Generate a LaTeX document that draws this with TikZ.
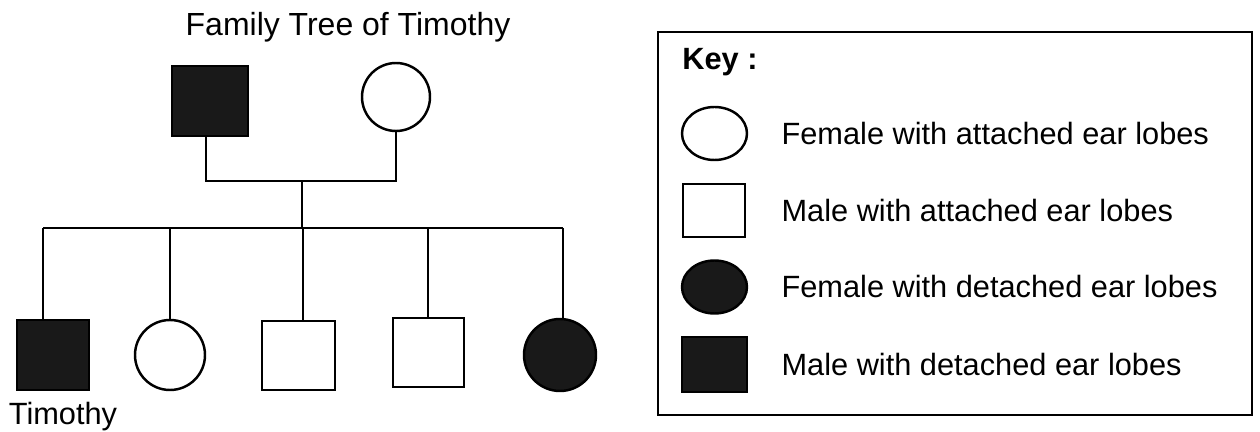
\documentclass[tikz,border=0pt]{standalone}
\usepackage{fontspec}
\setmainfont{Liberation Sans}
\usepackage{tikz}
\usetikzlibrary{positioning}
\usetikzlibrary{shapes.geometric}
\tikzstyle{line} = [line width=1.4pt]
\tikzstyle{label} = [font=\fontsize{17.5}{21}\selectfont, inner sep=0pt]
\tikzstyle{male} = [draw, line width=1.4pt, rectangle, inner sep=0pt]
\tikzstyle{female} = [draw, line width=1.4pt, circle, inner sep=0pt]
\tikzstyle{keyoval} = [draw, line width=1.4pt, ellipse, inner sep=0pt, minimum width=1.3cm, minimum height=1.06cm]
\tikzstyle{affected} = [fill=black!90]

\begin{document}
\begin{tikzpicture}
	\useasboundingbox (0,0) rectangle (25.2,-8.64);
	%Title
	\node[label, font=\fontsize{18.2}{22}\selectfont] (title) at (6.96,-0.54) {Family Tree of Timothy};
	
	%Parents
	\node[male, affected, minimum width=1.52cm, minimum height=1.4cm] (father) at (4.2,-2.02) {};
	\node[female, minimum size=1.36cm] (mother) at (7.92,-1.94) {};
	
	%Children
	\node[male, affected, minimum width=1.44cm, minimum height=1.4cm] (childOne) at (1.06,-7.1) {};
	\node[female, minimum size=1.4cm] (childTwo) at (3.4,-7.1) {};
	\node[male, minimum width=1.46cm, minimum height=1.38cm] (childThree) at (5.97,-7.11) {};
	\node[male, minimum width=1.42cm, minimum height=1.38cm] (childFour) at (8.57,-7.05) {};
	\node[female, affected, minimum size=1.44cm] (childFive) at (11.2,-7.1) {};
	\node[label] (timothy) at (1.26,-8.34) {Timothy};
	
	%Coordinates
	\coordinate (fatherDrop) at (4.12,-3.62);
	\coordinate (motherDrop) at (7.92,-3.62);
	\coordinate (marriage) at (6.04,-3.62);
	\coordinate (sibMid) at (6.04,-4.56);
	\coordinate (sibOne) at (0.86,-4.56);
	\coordinate (sibTwo) at (3.4,-4.56);
	\coordinate (sibThree) at (6.06,-4.56);
	\coordinate (sibFour) at (8.56,-4.56);
	\coordinate (sibFive) at (11.26,-4.56);
	
	%Lines
	\draw[line] (fatherDrop |- father.south) -- (fatherDrop) -- (motherDrop) -- (mother.south);
	\draw[line] (marriage) -- (sibMid);
	\draw[line] (sibOne) -- (sibFive);
	\draw[line] (sibOne) -- (sibOne |- childOne.north);
	\draw[line] (sibTwo) -- (childTwo.north);
	\draw[line] (sibThree) -- (sibThree |- childThree.north);
	\draw[line] (sibFour) -- (sibFour |- childFour.north);
	\draw[line] (sibFive) -- (sibFive |- childFive.north);
	
	%Key
	\draw[line] (13.16,-0.64) rectangle (25.04,-8.3);
	\node[label, anchor=west, font=\fontsize{17.5}{21}\selectfont\bfseries] (key) at (13.64,-1.24) {Key :};
	\node[keyoval] (kFemA) at (14.29,-2.67) {};
	\node[male, minimum width=1.24cm, minimum height=1.06cm] (kMaleA) at (14.28,-4.21) {};
	\node[keyoval, affected] (kFemD) at (14.29,-5.74) {};
	\node[male, affected, minimum width=1.3cm, minimum height=1.1cm] (kMaleD) at (14.29,-7.29) {};
	\node[label, right=0.66cm of kFemA] (tFemA) {Female with attached ear lobes};
	\node[label, right=0.7cm of kMaleA] (tMaleA) {Male with attached ear lobes};
	\node[label, right=0.66cm of kFemD] (tFemD) {Female with detached ear lobes};
	\node[label, right=0.66cm of kMaleD] (tMaleD) {Male with detached ear lobes};
\end{tikzpicture}
\end{document}
